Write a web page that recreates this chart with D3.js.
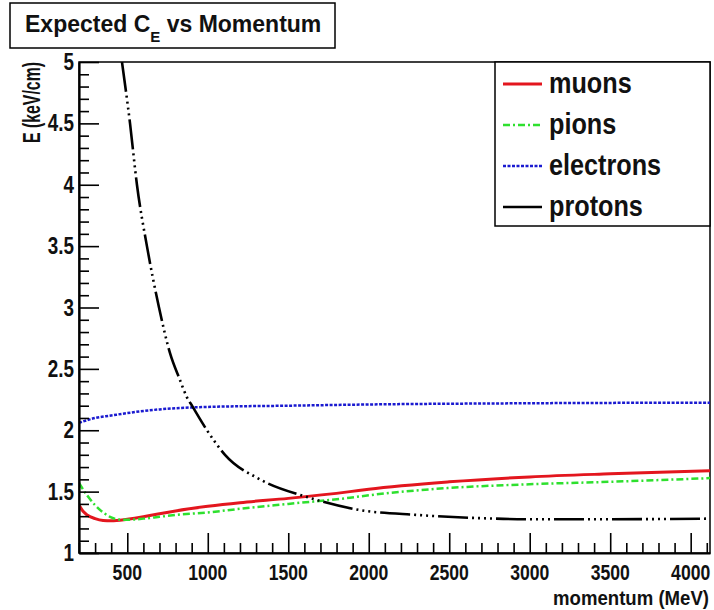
<!DOCTYPE html>
<html>
<head>
<meta charset="utf-8">
<script src="https://cdn.jsdelivr.net/npm/d3@7"></script>
<style>
  html, body { margin: 0; padding: 0; background: #fff; }
  svg { display: block; font-family: "Liberation Sans", Arial, sans-serif; font-weight: bold; }
</style>
</head>
<body>
<svg id="chart" width="714" height="610"></svg>
<script>
// Expected energy loss per unit length versus momentum, per particle type
const muonP   = [200, 225, 250, 300, 350, 400, 500, 600, 700, 800, 1000, 1200, 1500, 1883, 2000, 2500, 3000, 3500, 4120];
const muonE   = [1.39, 1.34, 1.31, 1.28, 1.265, 1.262, 1.275, 1.295, 1.32, 1.343, 1.38, 1.41, 1.445, 1.50, 1.52, 1.58, 1.62, 1.645, 1.67];

const pionP   = [200, 250, 300, 350, 400, 450, 500, 600, 700, 800, 1000, 1200, 1500, 1883, 2000, 2500, 3000, 3500, 4120];
const pionE   = [1.57, 1.47, 1.39, 1.33, 1.29, 1.272, 1.27, 1.28, 1.295, 1.31, 1.33, 1.36, 1.40, 1.45, 1.47, 1.53, 1.56, 1.58, 1.61];

const electronP = [200, 300, 400, 500, 700, 1000, 1500, 2000, 3000, 4120];
const electronE = [2.06, 2.10, 2.12, 2.14, 2.17, 2.19, 2.20, 2.21, 2.22, 2.225];

const protonP = [467, 517, 560, 622, 697, 765, 827, 870, 902, 995, 1107, 1324, 1616, 1945, 2300, 2710, 3000, 3500, 4120];
const protonE = [5.0, 4.5, 4.0, 3.5, 3.0, 2.63, 2.41, 2.27, 2.20, 2.0, 1.8, 1.6, 1.456, 1.35, 1.31, 1.283, 1.275, 1.275, 1.28];

const xMajorTicks = [500, 1000, 1500, 2000, 2500, 3000, 3500, 4000];
const yMajorTicks = [1, 1.5, 2, 2.5, 3, 3.5, 4, 4.5, 5];
const seriesNames = ["muons", "pions", "electrons", "protons"];

const titleText = "Expected C";
const titleSub = "E";
const titleRest = " vs Momentum";
const xTitle = "momentum (MeV)";
const yTitle = "E (keV/cm)";

// Layout
const svg = d3.select("#chart");
const frame = { left: 79, top: 62, right: 710, bottom: 553 };

const x = d3.scaleLinear().domain([200, 4120]).range([frame.left, frame.right]);
const y = d3.scaleLinear().domain([1, 5]).range([frame.bottom, frame.top]);

const styles = {
  muons:     { color: "#e3161e", width: 3,   dash: null },
  pions:     { color: "#2ee02e", width: 2.5, dash: "7 3 2 3" },
  electrons: { color: "#1a1ad0", width: 2.5, dash: "3 1.5" },
  protons:   { color: "#000000", width: 2.6, dash: "30 4 2 4 2 4 2 4 2 4" }
};

const series = [
  { name: "muons", p: muonP, e: muonE },
  { name: "pions", p: pionP, e: pionE },
  { name: "electrons", p: electronP, e: electronE },
  { name: "protons", p: protonP, e: protonE }
];

// Horizontally condensed text helper
function label(g, tx, ty, text, size, anchor, sx, rotate) {
  return g.append("text")
    .attr("transform", `translate(${tx},${ty})` + (rotate ? ` rotate(${rotate})` : "") + ` scale(${sx},1)`)
    .attr("text-anchor", anchor)
    .attr("font-size", size)
    .attr("fill", "#111")
    .text(text);
}

// Plot frame
svg.append("rect")
  .attr("x", frame.left).attr("y", frame.top)
  .attr("width", frame.right - frame.left).attr("height", frame.bottom - frame.top)
  .attr("fill", "#fff").attr("stroke", "#000").attr("stroke-width", 1.5);

// Curves
svg.append("clipPath").attr("id", "plotClip")
  .append("rect")
  .attr("x", frame.left).attr("y", frame.top)
  .attr("width", frame.right - frame.left).attr("height", frame.bottom - frame.top);

const line = d3.line()
  .x(d => x(d[0]))
  .y(d => y(d[1]))
  .curve(d3.curveMonotoneX);

const curves = svg.append("g").attr("clip-path", "url(#plotClip)");
series.forEach(s => {
  const st = styles[s.name];
  curves.append("path")
    .datum(d3.zip(s.p, s.e))
    .attr("d", line)
    .attr("fill", "none")
    .attr("stroke", st.color)
    .attr("stroke-width", st.width)
    .attr("stroke-dasharray", st.dash)
    .attr("stroke-linejoin", "round");
});

// Axes: minor ticks
const xMinor = d3.range(200, 4101, 100).filter(v => !xMajorTicks.includes(v));
const yMinor = d3.range(10, 51, 1).map(v => v / 10).filter(v => !yMajorTicks.includes(v));

svg.append("g")
  .attr("transform", `translate(0,${frame.bottom})`)
  .call(d3.axisBottom(x).tickValues(xMinor).tickSize(-10).tickSizeOuter(0).tickFormat(""))
  .call(g => g.select(".domain").remove())
  .call(g => g.selectAll("line").attr("stroke-width", 1.6));

svg.append("g")
  .attr("transform", `translate(${frame.left},0)`)
  .call(d3.axisLeft(y).tickValues(yMinor).tickSize(-10).tickSizeOuter(0).tickFormat(""))
  .call(g => g.select(".domain").remove())
  .call(g => g.selectAll("line").attr("stroke-width", 1.6));

// Axes: major ticks
const xAxis = svg.append("g")
  .attr("transform", `translate(0,${frame.bottom})`)
  .call(d3.axisBottom(x).tickValues(xMajorTicks).tickSize(-20).tickSizeOuter(0).tickFormat(() => ""));
xAxis.select(".domain").attr("stroke-width", 2.2);
xAxis.selectAll("line").attr("stroke-width", 1.6);

const yAxis = svg.append("g")
  .attr("transform", `translate(${frame.left},0)`)
  .call(d3.axisLeft(y).tickValues(yMajorTicks).tickSize(-20).tickSizeOuter(0).tickFormat(() => ""));
yAxis.select(".domain").attr("stroke-width", 2.2);
yAxis.selectAll("line").attr("stroke-width", 1.6);

// Tick labels
const labels = svg.append("g");
xMajorTicks.forEach(v => label(labels, x(v), 580, d3.format("d")(v), 22, "middle", 0.8));
yMajorTicks.forEach(v => label(labels, frame.left - 5, y(v) + 8, d3.format("")(v), 23, "end", 0.82));

// Axis titles
label(labels, 709, 605, xTitle, 20, "end", 0.93);
label(labels, 40, frame.top, yTitle, 24, "end", 0.66, -90);

// Title box
const title = svg.append("g");
title.append("rect")
  .attr("x", 10).attr("y", 3).attr("width", 325).attr("height", 45)
  .attr("fill", "#fff").attr("stroke", "#000").attr("stroke-width", 1.5);
const tt = title.append("text")
  .attr("x", 25).attr("y", 32)
  .attr("font-size", 23)
  .attr("fill", "#111");
tt.append("tspan").text(titleText);
tt.append("tspan").attr("font-size", 15).attr("dy", 10).text(titleSub);
tt.append("tspan").attr("dy", -10).attr("xml:space", "preserve").text(titleRest);

// Legend
const legend = svg.append("g");
legend.append("rect")
  .attr("x", 495).attr("y", 62).attr("width", 215).attr("height", 164)
  .attr("fill", "#fff").attr("stroke", "#000").attr("stroke-width", 1.5);

const rowY = d3.scalePoint().domain(seriesNames).range([84, 207]);
seriesNames.forEach(name => {
  const st = styles[name];
  const cy = rowY(name);
  legend.append("line")
    .attr("x1", 503).attr("x2", 542)
    .attr("y1", cy).attr("y2", cy)
    .attr("stroke", st.color)
    .attr("stroke-width", st.width)
    .attr("stroke-dasharray", name === "protons" ? null : st.dash);
  label(legend, 549, cy + 9, name, 29, "start", 0.87);
});
</script>
</body>
</html>
